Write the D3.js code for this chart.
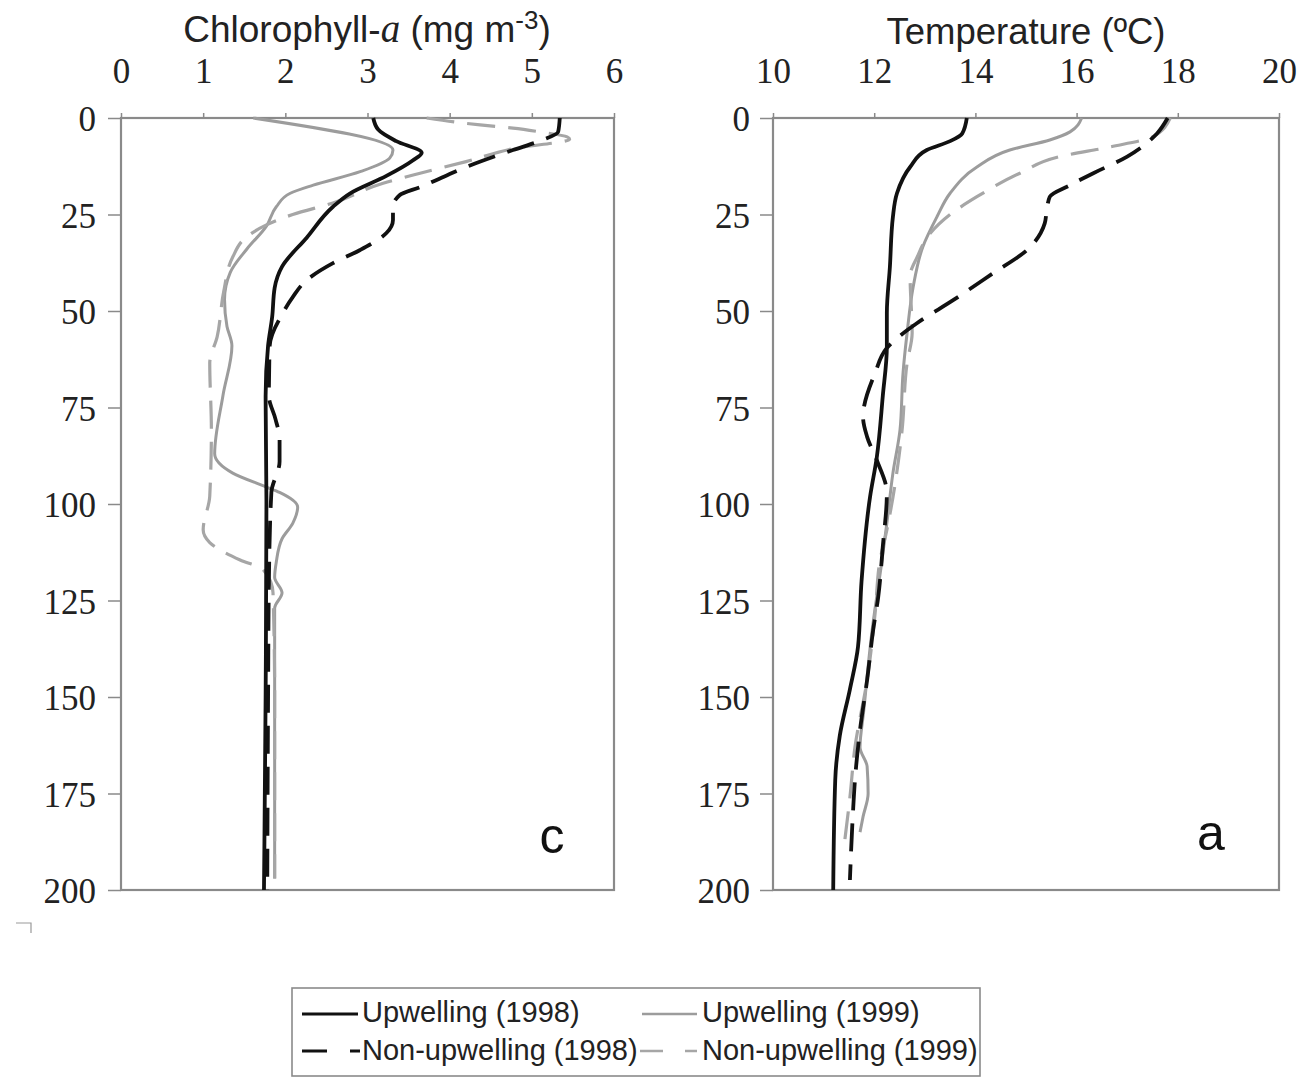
<!DOCTYPE html>
<html>
<head>
<meta charset="utf-8">
<script src="https://cdn.jsdelivr.net/npm/d3@7"></script>
<style>
  html, body { margin: 0; padding: 0; background: #fff; }
  svg { display: block; }
</style>
</head>
<body>
<svg id="chart" width="1303" height="1078"></svg>
<script>
// ---------- DATA ----------
const chlTicks = [0, 1, 2, 3, 4, 5, 6];
const tempTicks = [10, 12, 14, 16, 18, 20];
const depthTicks = [0, 25, 50, 75, 100, 125, 150, 175, 200];

const seriesNames = ["Upwelling (1998)", "Upwelling (1999)", "Non-upwelling (1998)", "Non-upwelling (1999)"];

// Chlorophyll-a (mg m-3) profiles
const chlUp98Depth = [0, 3, 6, 9, 11, 15, 19.5, 23, 31, 38.5, 44, 51.5, 59, 72, 100, 150, 200];
const chlUp98Val   = [3.07, 3.13, 3.35, 3.66, 3.55, 3.23, 2.79, 2.58, 2.26, 1.96, 1.87, 1.84, 1.79, 1.76, 1.77, 1.76, 1.74];

const chlNon98Depth = [0, 3.6, 5.7, 8.3, 12.7, 17.9, 20, 23, 26.4, 29.8, 34.2, 37.6, 42, 46.4, 50.5, 59, 72, 78, 83, 89, 97, 120, 150, 200];
const chlNon98Val   = [5.34, 5.32, 5.13, 4.77, 4.2, 3.64, 3.39, 3.31, 3.31, 3.23, 2.91, 2.58, 2.26, 2.09, 1.97, 1.81, 1.8, 1.88, 1.93, 1.93, 1.83, 1.8, 1.79, 1.78];

const chlUp99Depth = [0, 8.3, 10.4, 13.9, 17.4, 19.5, 23, 28, 34, 40, 47, 54, 59, 72, 87, 92, 95.6, 97, 100.8, 105, 109, 115, 119, 123, 127, 140, 197];
const chlUp99Val   = [1.61, 3.31, 3.27, 2.91, 2.34, 2.06, 1.89, 1.77, 1.53, 1.33, 1.26, 1.29, 1.35, 1.24, 1.14, 1.36, 1.77, 1.93, 2.15, 2.09, 1.96, 1.89, 1.87, 1.96, 1.87, 1.87, 1.87];

const chlNon99Depth = [0, 1.8, 2.6, 3.6, 4.9, 5.5, 7.8, 11.3, 14.3, 16.9, 22, 25, 27.7, 30.8, 36, 45, 56.7, 63.5, 80.8, 98, 106.7, 110, 114.5, 117, 123, 150, 197];
const chlNon99Val   = [3.72, 4.37, 4.77, 5.1, 5.43, 5.46, 4.81, 4.2, 3.64, 3.19, 2.58, 2.09, 1.77, 1.53, 1.36, 1.25, 1.17, 1.08, 1.1, 1.08, 1.0, 1.08, 1.45, 1.73, 1.85, 1.87, 1.87];

// Temperature (ºC) profiles
const tUp98Depth = [0, 4, 6, 8.3, 12.7, 19.5, 25.6, 38.6, 50.5, 59.3, 72, 88, 98, 120, 137, 148, 160, 171.5, 200];
const tUp98Val   = [13.83, 13.74, 13.5, 13.04, 12.71, 12.45, 12.37, 12.31, 12.25, 12.25, 12.17, 12.05, 11.92, 11.75, 11.68, 11.52, 11.32, 11.23, 11.19];

const tNon98Depth = [0, 4, 10, 14.3, 17.4, 20.4, 23.9, 27.3, 34.2, 40.2, 47.2, 53.1, 55, 59.6, 66, 77.5, 82.6, 88.6, 97.2, 111, 124, 132.6, 145.6, 158.5, 171.5, 180, 197.4];
const tNon98Val   = [17.8, 17.59, 17.0, 16.33, 15.87, 15.47, 15.41, 15.37, 15.02, 14.35, 13.56, 12.85, 12.65, 12.25, 12.02, 11.78, 11.86, 12.05, 12.25, 12.17, 12.08, 11.98, 11.86, 11.72, 11.62, 11.58, 11.52];

const tUp99Depth = [0, 3.6, 5.7, 8.3, 12.7, 19.5, 25.6, 33.4, 43.8, 55.7, 66, 80.8, 92, 105, 115, 132.6, 154, 163, 168, 175, 181, 185];
const tUp99Val   = [16.1, 15.87, 15.47, 14.68, 14.03, 13.5, 13.24, 12.96, 12.77, 12.65, 12.57, 12.51, 12.37, 12.25, 12.15, 11.96, 11.79, 11.72, 11.86, 11.88, 11.78, 11.72];

const tNon99Depth = [0, 4.9, 7.5, 10, 14.3, 20.4, 25, 30, 36, 41, 55.7, 63.5, 81, 106.7, 115, 128, 145.6, 163, 176, 187];
const tNon99Val   = [17.85, 17.5, 16.66, 15.67, 14.88, 14.03, 13.5, 13.1, 12.85, 12.71, 12.75, 12.65, 12.55, 12.25, 12.11, 12.02, 11.86, 11.62, 11.52, 11.42];

// ---------- STYLE ----------
const styles = {
  up98:  { stroke: "#111", width: 3.8, dash: null },
  up99:  { stroke: "#9c9c9c", width: 3, dash: null },
  non98: { stroke: "#111", width: 3.8, dash: "28,13" },
  non99: { stroke: "#a6a6a6", width: 3.2, dash: "28,13" }
};
const frameColor = "#8a8a8a";

const svg = d3.select("#chart");

function zip(ds, vs) { return ds.map((d, i) => ({ depth: d, v: vs[i] })); }

function panel(opts) {
  const g = svg.append("g");
  const x = d3.scaleLinear().domain(opts.xDomain).range([opts.left, opts.right]);
  const y = d3.scaleLinear().domain([0, 200]).range([opts.top, opts.bottom]);

  // top axis
  const ax = g.append("g").attr("transform", `translate(0,${opts.top})`)
    .call(d3.axisTop(x).tickValues(opts.xTicks).tickSize(5).tickPadding(30).tickFormat(d3.format("d")));
  ax.select(".domain").remove();
  ax.selectAll("line").attr("stroke", frameColor).attr("stroke-width", 1.5);
  ax.selectAll("text").attr("font-family", "'Liberation Serif', 'Times New Roman', serif")
    .attr("font-size", 35).attr("fill", "#222");

  // left axis
  const ay = g.append("g").attr("transform", `translate(${opts.left},0)`)
    .call(d3.axisLeft(y).tickValues(depthTicks).tickSize(13).tickPadding(opts.yPad).tickFormat(d3.format("d")));
  ay.select(".domain").remove();
  ay.selectAll("line").attr("stroke", frameColor).attr("stroke-width", 1.5);
  ay.selectAll("text").attr("font-family", "'Liberation Serif', 'Times New Roman', serif")
    .attr("font-size", 35).attr("fill", "#222").attr("dy", "0.36em");

  // frame
  g.append("rect").attr("x", opts.left).attr("y", opts.top)
    .attr("width", opts.right - opts.left).attr("height", opts.bottom - opts.top)
    .attr("fill", "none").attr("stroke", frameColor).attr("stroke-width", 2.2);

  const line = d3.line().x(d => x(d.v)).y(d => y(d.depth)).curve(d3.curveMonotoneY);

  opts.series.forEach(s => {
    const st = styles[s.key];
    g.append("path").datum(zip(s.d, s.v))
      .attr("fill", "none").attr("stroke", st.stroke).attr("stroke-width", st.width)
      .attr("stroke-dasharray", st.dash).attr("stroke-linejoin", "round").attr("stroke-linecap", "butt")
      .attr("d", line);
  });

  // panel letter
  g.append("text").attr("x", opts.letterX).attr("y", opts.letterY)
    .attr("font-family", "'Liberation Sans', Arial, sans-serif").attr("font-size", 50)
    .attr("fill", "#111").attr("text-anchor", "middle").text(opts.letter);
  return g;
}

panel({
  left: 121, right: 614, top: 118, bottom: 890,
  xDomain: [0, 6], xTicks: chlTicks, yPad: 12,
  series: [
    { key: "up99", d: chlUp99Depth, v: chlUp99Val },
    { key: "non99", d: chlNon99Depth, v: chlNon99Val },
    { key: "non98", d: chlNon98Depth, v: chlNon98Val },
    { key: "up98", d: chlUp98Depth, v: chlUp98Val }
  ],
  letter: "c", letterX: 552, letterY: 853
});

panel({
  left: 773, right: 1279, top: 118, bottom: 890,
  xDomain: [10, 20], xTicks: tempTicks, yPad: 10,
  series: [
    { key: "up99", d: tUp99Depth, v: tUp99Val },
    { key: "non99", d: tNon99Depth, v: tNon99Val },
    { key: "non98", d: tNon98Depth, v: tNon98Val },
    { key: "up98", d: tUp98Depth, v: tUp98Val }
  ],
  letter: "a", letterX: 1211, letterY: 850
});

// titles
const t1 = svg.append("text").attr("x", 367).attr("y", 42).attr("text-anchor", "middle")
  .attr("font-family", "'Liberation Sans', Arial, sans-serif").attr("font-size", 37).attr("fill", "#222");
t1.append("tspan").text("Chlorophyll-");
t1.append("tspan").attr("font-family", "'Liberation Serif', 'Times New Roman', serif").attr("font-style", "italic").attr("font-size", 39).text("a");
t1.append("tspan").text(" (mg m");
t1.append("tspan").attr("font-size", 26).attr("dy", -13).text("-3");
t1.append("tspan").attr("dy", 13).text(")");

svg.append("text").attr("x", 1026).attr("y", 44).attr("text-anchor", "middle")
  .attr("font-family", "'Liberation Sans', Arial, sans-serif").attr("font-size", 36.5).attr("fill", "#222")
  .text("Temperature (ºC)");

// small corner mark
svg.append("path").attr("d", "M16,923 H31 V933").attr("fill", "none").attr("stroke", "#999").attr("stroke-width", 1.2);

// legend
const lg = svg.append("g");
lg.append("rect").attr("x", 292).attr("y", 988).attr("width", 688).attr("height", 88)
  .attr("fill", "none").attr("stroke", frameColor).attr("stroke-width", 1.6);

const legendItems = [
  { name: seriesNames[0], key: "up98",  x1: 302, x2: 358, tx: 362, y: 1014, ty: 1022, dash: null },
  { name: seriesNames[1], key: "up99",  x1: 642, x2: 697, tx: 702, y: 1014, ty: 1022, dash: null },
  { name: seriesNames[2], key: "non98", x1: 302, x2: 360, tx: 362, y: 1051, ty: 1060, dash: "25,23" },
  { name: seriesNames[3], key: "non99", x1: 640, x2: 697, tx: 702, y: 1051, ty: 1060, dash: "23,22" }
];
legendItems.forEach(it => {
  const st = styles[it.key];
  lg.append("line").attr("x1", it.x1).attr("x2", it.x2).attr("y1", it.y).attr("y2", it.y)
    .attr("stroke", st.stroke).attr("stroke-width", st.width - 0.6)
    .attr("stroke-dasharray", it.dash);
  lg.append("text").attr("x", it.tx).attr("y", it.ty)
    .attr("font-family", "'Liberation Sans', Arial, sans-serif").attr("font-size", 29).attr("fill", "#222")
    .text(it.name);
});
</script>
</body>
</html>
